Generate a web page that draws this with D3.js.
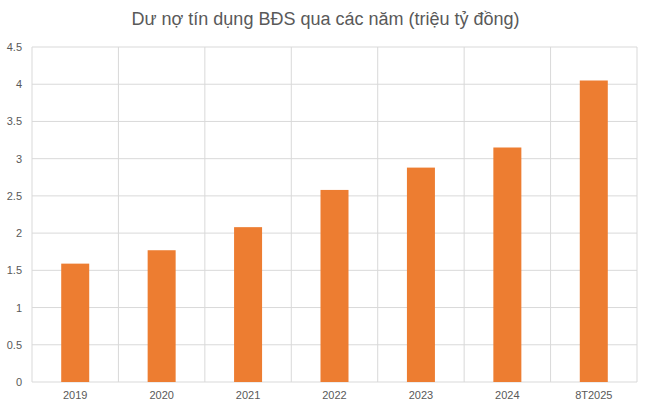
<!DOCTYPE html>
<html><head><meta charset="utf-8">
<script src="https://cdn.jsdelivr.net/npm/d3@7"></script>
<style>body{margin:0;background:#fff}</style></head>
<body><svg id="c" width="651" height="410"></svg>
<script>
const categories=["2019","2020","2021","2022","2023","2024","8T2025"];
const values=[1.59,1.77,2.08,2.58,2.88,3.15,4.05];
const yTicks=[0,0.5,1,1.5,2,2.5,3,3.5,4,4.5];
const svg=d3.select("#c");
const m={l:32,r:14,t:47,b:28};
const W=651,H=410;
const x=d3.scaleBand().domain(categories).range([m.l,W-m.r]);
const y=d3.scaleLinear().domain([0,4.5]).range([H-m.b,m.t]);
svg.append("text").attr("x",W/2).attr("y",25).attr("text-anchor","middle")
 .attr("font-family","Liberation Sans, Arial").attr("font-size",18).attr("fill","#595959")
 .text("Dư nợ tín dụng BĐS qua các năm (triệu tỷ đồng)");
const g=svg.append("g");
yTicks.forEach(t=>{
 g.append("line").attr("x1",m.l).attr("x2",W-m.r).attr("y1",y(t)).attr("y2",y(t)).attr("stroke","#d9d9d9");
 g.append("text").attr("x",m.l-10).attr("y",y(t)+4).attr("text-anchor","end")
  .attr("font-family","Liberation Sans, Arial").attr("font-size",11).attr("fill","#595959").text(t);
});
categories.concat(["_end"]).forEach((c,i)=>{
 const xx=m.l+i*x.bandwidth();
 g.append("line").attr("x1",xx).attr("x2",xx).attr("y1",m.t).attr("y2",H-m.b).attr("stroke","#d9d9d9");
});
const bw=28;
g.selectAll("rect").data(values).join("rect")
 .attr("x",(d,i)=>x(categories[i])+x.bandwidth()/2-bw/2).attr("width",bw)
 .attr("y",d=>y(d)).attr("height",d=>y(0)-y(d)).attr("fill","#ed7d31");
categories.forEach(c=>{
 g.append("text").attr("x",x(c)+x.bandwidth()/2).attr("y",H-m.b+17).attr("text-anchor","middle")
  .attr("font-family","Liberation Sans, Arial").attr("font-size",11).attr("fill","#595959").text(c);
});
</script></body></html>
